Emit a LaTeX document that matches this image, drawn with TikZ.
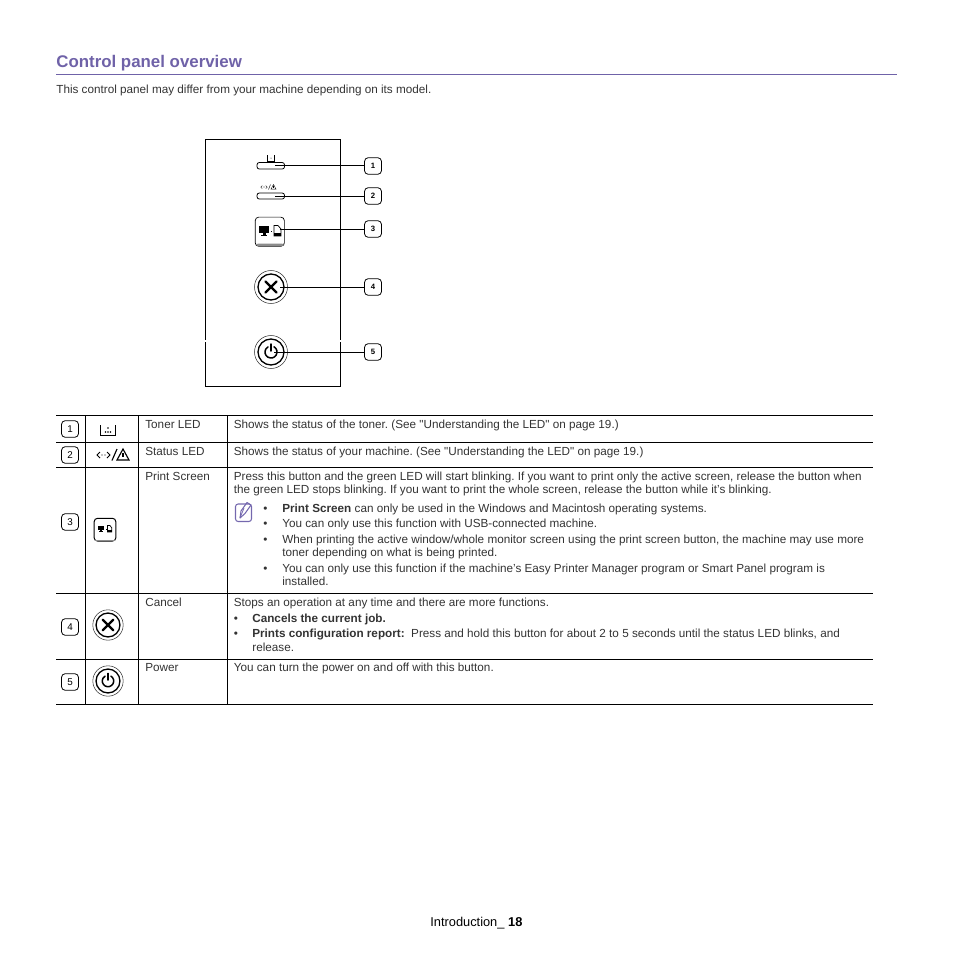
\documentclass[tikz,border=0pt]{standalone}
\usepackage{fontspec}
\setmainfont{Liberation Sans}[Ligatures=TeXOff]
\definecolor{titlecol}{HTML}{6F62A8}
\definecolor{bodycol}{HTML}{333333}
\definecolor{notecol}{HTML}{7468AE}
\tikzset{
  txt/.style={anchor=base west,inner sep=0pt,text=bodycol,font=\fontsize{6.67pt}{7pt}\selectfont\frenchspacing},
  txtb/.style={txt,font=\fontsize{6.67pt}{7pt}\selectfont\bfseries},
  badge/.style={draw=black,line width=0.45pt,rounded corners=2pt,minimum width=9.6pt,minimum height=9.4pt,inner sep=0pt,text=black,font=\fontsize{5.6pt}{6pt}\selectfont},
  badgeb/.style={badge,font=\fontsize{4.4pt}{5pt}\selectfont\bfseries},
  btn/.style={circle,inner sep=0pt,minimum size=#1},
  leader/.style={line width=0.5pt,black},
  tabrule/.style={line width=0.55pt,black},
  pics/ring/.style={code={
    \draw[line width=0.3pt,black!80] (0,0) circle (16.5);
    \draw[line width=0.75pt,black] (0,0) circle (13);
  }},
  pics/crossmark/.style={code={
    \draw[line width=1.3pt,line cap=round] (-5.5,-5.5) -- (5.5,5.5) (-5.5,5.5) -- (5.5,-5.5);
  }},
  pics/powermark/.style={code={
    \draw[line width=0.85pt,line cap=round] (3,-5.2) arc (-60:240:6);
    \draw[line width=0.85pt,line cap=round] (0,-8) -- (0,-1);
  }},
  pics/printmark/.style={code={
    % monitor
    \fill (-11,-5) rectangle (-1,2);
    \fill (-7.5,2) rectangle (-4.5,4);
    \fill (-9,4) rectangle (-3,5);
    \fill (1,-0.5) rectangle (2.2,0.7);
    % page
    \draw[line width=0.4pt] (4,5) -- (4,-5.5) -- (8,-5.5) -- (11,-2) -- (11,5) -- cycle;
    \fill (4,2) rectangle (11,5);
  }},
  pics/warnmark/.style={code={
    \draw[line width=#1,line join=miter] (-6,5) -- (0,-6) -- (6,5) -- cycle;
    \draw[line width=#1] (0,-2) -- (0,2);
  }},
  pics/arrowmark/.style={code={
    \draw[line width=#1] (-3.5,-3) -- (-6.5,0) -- (-3.5,3) (3.5,-3) -- (6.5,0) -- (3.5,3);
    \fill (-1.5,0) circle (0.7) (1.5,0) circle (0.7);
  }}
}
\begin{document}
\begin{tikzpicture}[x=0.02cm,y=-0.02cm]
  \useasboundingbox (0,0) rectangle (954,954);
  % heading
  \node[anchor=base west,inner sep=0pt,text=titlecol,font=\fontsize{9.6pt}{11pt}\selectfont\bfseries] (title) at (56,67) {Control panel overview};
  \draw[line width=0.45pt,titlecol] (56,74.5) -- (897,74.5);
  \node[txt] (intro) at (56,93) {This control panel may differ from your machine depending on its model.};
  % panel
  \draw[line width=0.55pt] (205.7,139.4) rectangle (340.3,386.2);
  \draw[line width=0.8pt,white] (204.7,341) -- (206.7,341) (339.3,341) -- (341.3,341);
  \coordinate (led1) at (275,165.5);
  \coordinate (led2) at (275,196);
  \draw[line width=0.45pt,rounded corners=1.3pt] (257,162.5) rectangle (284.5,169);
  \draw[line width=0.45pt,rounded corners=1.3pt] (257,193) rectangle (284.5,199);
  \draw[line width=0.4pt] (267.5,155) -- (267.5,161.5) -- (274.5,161.5) -- (274.5,155);
  \fill (271,158) circle (0.5);
  \pic[scale=0.5] at (264,187) {arrowmark=0.2pt};
  \draw[line width=0.25pt] (268.5,189.5) -- (270.5,184.5);
  \pic[scale=0.42] at (273.5,187) {warnmark=0.2pt};
  \node[draw=black,line width=0.4pt,rounded corners=2pt,minimum width=16.6pt,minimum height=16.6pt,inner sep=0pt] (print) at (269.8,231.7) {};
  \fill[black!45,rounded corners=1pt] (256,243.5) rectangle (284,246);
  \pic at (270,231) {printmark};
  \node[btn=18.8pt] (cancel) at (271,287) {};
  \pic at (271,287) {ring};
  \pic at (271,287) {crossmark};
  \node[btn=18.8pt] (power) at (271,352) {};
  \pic at (271,352) {ring};
  \pic at (271,352) {powermark};
  \node[badgeb] (p1) at (373,166) {1};
  \node[badgeb] (p2) at (373,196) {2};
  \node[badgeb] (p3) at (373,229) {3};
  \node[badgeb] (p4) at (373,287) {4};
  \node[badgeb] (p5) at (373,352) {5};
  \draw[leader] (led1) -- (led1 -| p1.west);
  \draw[leader] (led2) -- (led2 -| p2.west);
  \draw[leader] (print.center) ++(10,-2.7) -- (p3.west);
  \draw[leader] (cancel.center) ++(9,0) -- (p4.west);
  \draw[leader] (power.center) ++(3,0) -- (p5.west);
  % table
  \draw[tabrule] (56,415.5) -- (873,415.5);
  \draw[tabrule] (56,442.5) -- (873,442.5);
  \draw[tabrule] (56,467.5) -- (873,467.5);
  \draw[tabrule] (56,593.5) -- (873,593.5);
  \draw[tabrule] (56,659.5) -- (873,659.5);
  \draw[tabrule] (56,704.5) -- (873,704.5);
  \draw[tabrule] (85.5,415.5) -- (85.5,704.5);
  \draw[tabrule] (138.5,415.5) -- (138.5,704.5);
  \draw[tabrule] (227.5,415.5) -- (227.5,704.5);
  \node[badge] (n1) at (70,429) {1};
  \node[badge] (n2) at (70,455) {2};
  \node[badge] (n3) at (70,522) {3};
  \node[badge] (n4) at (70,627) {4};
  \node[badge] (n5) at (70,682) {5};
  % row icons
  \draw[line width=0.5pt] (100.5,425) -- (100.5,435) -- (115.5,435) -- (115.5,425);
  \fill (108,428) circle (0.8) (105.5,432) circle (0.8) (110.5,432) circle (0.8) (108,432) circle (0.8);
  \pic at (103.5,455) {arrowmark=0.55pt};
  \draw[line width=0.65pt] (112,460.5) -- (117,449);
  \pic at (123,455) {warnmark=0.65pt};
  \node[draw=black,line width=0.55pt,rounded corners=2pt,minimum width=12.4pt,minimum height=13pt,inner sep=0pt] (printb) at (105,529.7) {};
  \fill[black!45] (95,539.5) rectangle (115,541);
  \pic[scale=0.62] at (105,529) {printmark};
  \pic[scale=0.92] at (108,625) {ring};
  \pic[scale=0.95] at (108,625) {crossmark};
  \pic[scale=0.92] at (108,681) {ring};
  \pic[scale=0.95] at (108,681) {powermark};
  % row titles
  \node[txt] (l1) at (145,428) {Toner LED};
  \node[txt] (l2) at (145,455) {Status LED};
  \node[txt] (l3) at (145,480) {Print Screen};
  \node[txt] (l4) at (145,606) {Cancel};
  \node[txt] (l5) at (145,671) {Power};
  % row texts
  \node[txt] (d1) at (233.5,428) {Shows the status of the toner. (See "Understanding the LED" on page 19.)};
  \node[txt] (d2) at (233.5,455) {Shows the status of your machine. (See "Understanding the LED" on page 19.)};
  \node[txt] (d3a) at (233.5,480) {Press this button and the green LED will start blinking. If you want to print only the active screen, release the button when};
  \node[txt] (d3b) at (233.5,493) {the green LED stops blinking. If you want to print the whole screen, release the button while it’s blinking.};
  \node[txt] (b1) at (263,512) {•};
  \node[txt] (b2) at (263,527) {•};
  \node[txt] (b3) at (263,543) {•};
  \node[txt] (b4) at (263,572) {•};
  \node[txt] (d3c) at (282,512) {\textbf{Print Screen} can only be used in the Windows and Macintosh operating systems.};
  \node[txt] (d3d) at (282,527) {You can only use this function with USB-connected machine.};
  \node[txt] (d3e) at (282,543) {When printing the active window/whole monitor screen using the print screen button, the machine may use more};
  \node[txt] (d3f) at (282,556) {toner depending on what is being printed.};
  \node[txt] (d3g) at (282,572) {You can only use this function if the machine’s Easy Printer Manager program or Smart Panel program is};
  \node[txt] (d3h) at (282,585) {installed.};
  \node[txt] (d4a) at (233.5,606) {Stops an operation at any time and there are more functions.};
  \node[txt] (b5) at (233.5,622) {•};
  \node[txt] (b6) at (233.5,637) {•};
  \node[txtb] (d4b) at (252,622) {Cancels the current job.};
  \node[txt] (d4c) at (252,637) {\textbf{Prints configuration report:}\ \ Press and hold this button for about 2 to 5 seconds until the status LED blinks, and};
  \node[txt] (d4d) at (252,651) {release.};
  \node[txt] (d5) at (233.5,671) {You can turn the power on and off with this button.};
  % note icon
  \draw[notecol,line width=0.6pt,rounded corners=1.5pt] (235.5,504) rectangle (251.5,521.5);
  \draw[notecol,line width=0.6pt,line join=round] (240,518) -- (241,511) -- (247,502.5) -- (251,505) -- (245,513.5) -- cycle;
  \draw[notecol,line width=0.45pt] (240,518) -- (244,508);
  % footer
  \node[txt,text=black,font=\fontsize{7.3pt}{8pt}\selectfont] (foot) at (430,926) {Introduction\_ \textbf{18}};
\end{tikzpicture}
\end{document}
